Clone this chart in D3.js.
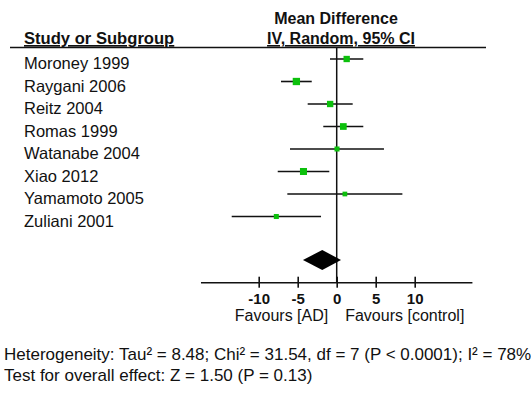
<!DOCTYPE html>
<html>
<head>
<meta charset="utf-8">
<script src="https://cdn.jsdelivr.net/npm/d3@7"></script>
<style>
  body { margin: 0; background: #fff; }
  svg { display: block; font-family: "Liberation Sans", Arial, sans-serif; }
  text { fill: #111; }
</style>
</head>
<body>
<svg id="forest" width="531" height="395"></svg>
<script>
// study data (mean difference, 95% CI, weight %)
const studies = ["Moroney 1999", "Raygani 2006", "Reitz 2004", "Romas 1999",
  "Watanabe 2004", "Xiao 2012", "Yamamoto 2005", "Zuliani 2001"];
const meanDiff = [1.28, -5.17, -0.84, 0.85, 0.04, -4.26, 1.05, -7.74];
const ciLower = [-0.86, -7.14, -3.72, -1.72, -5.99, -7.56, -6.33, -13.46];
const ciUpper = [3.41, -3.20, 2.05, 3.41, 6.06, -0.95, 8.42, -2.01];
const weights = [13.3, 17.7, 13.4, 15.0, 8.4, 16.4, 7.4, 8.4];

// pooled estimate
const pooled = [-1.85, -4.33, 0.55];  // mean, lower, upper

const tickValues = [-10, -5, 0, 5, 10];
const axisLimits = [-17.4, 17.4];

const heterogeneityText = "Heterogeneity: Tau² = 8.48; Chi² = 31.54, df = 7 (P < 0.0001); I² = 78%";
const overallText = "Test for overall effect: Z = 1.50 (P = 0.13)";

const svg = d3.select("#forest");

// scales
const x = d3.scaleLinear().domain([-10, 10]).range([258.7, 414.7]);
const y = d3.scalePoint().domain(studies).range([59, 216.5]);
const size = d3.scaleSqrt().domain([0, 17.7]).range([0, 7.3]);

const zeroX = x(0);
const axisY = 282.7;
const diamondY = 260;

// header
svg.append("text")
  .text("Mean Difference")
  .attr("x", 336).attr("y", 23.5)
  .attr("text-anchor", "middle")
  .attr("font-weight", "bold")
  .attr("font-size", 16);

svg.append("text")
  .text("Study or Subgroup")
  .attr("x", 24).attr("y", 44)
  .attr("font-weight", "bold")
  .attr("font-size", 16.6)
  .style("text-decoration", "underline");

svg.append("text")
  .text("IV, Random, 95% CI")
  .attr("x", 341).attr("y", 44)
  .attr("text-anchor", "middle")
  .attr("font-weight", "bold")
  .attr("font-size", 16)
  .style("text-decoration", "underline");

svg.append("line")
  .attr("x1", 10).attr("x2", 486)
  .attr("y1", 47.5).attr("y2", 47.5)
  .attr("stroke", "#111").attr("stroke-width", 1.6);

// zero line
svg.append("line")
  .attr("x1", zeroX).attr("x2", zeroX)
  .attr("y1", 47.5).attr("y2", axisY)
  .attr("stroke", "#111").attr("stroke-width", 1.5);

const rows = studies.map((s, i) => ({
  name: s, md: meanDiff[i], lo: ciLower[i], hi: ciUpper[i], w: weights[i]
}));

// study labels
svg.selectAll("text.study")
  .data(rows)
  .join("text")
    .attr("class", "study")
    .attr("x", 24)
    .attr("y", d => y(d.name) + 10)
    .attr("font-size", 16.5)
    .text(d => d.name);

// CI whiskers
svg.selectAll("line.ci")
  .data(rows)
  .join("line")
    .attr("class", "ci")
    .attr("x1", d => x(d.lo))
    .attr("x2", d => x(d.hi))
    .attr("y1", d => y(d.name))
    .attr("y2", d => y(d.name))
    .attr("stroke", "#111")
    .attr("stroke-width", 1.6);

// weight squares
svg.selectAll("rect.est")
  .data(rows)
  .join("rect")
    .attr("class", "est")
    .attr("x", d => x(d.md) - size(d.w) / 2)
    .attr("y", d => y(d.name) - size(d.w) / 2)
    .attr("width", d => size(d.w))
    .attr("height", d => size(d.w))
    .attr("fill", "#0cc00c");

// pooled diamond
svg.append("path")
  .attr("d", d3.line()([
    [x(pooled[1]), diamondY],
    [x(pooled[0]), diamondY - 10],
    [x(pooled[2]), diamondY],
    [x(pooled[0]), diamondY + 10]
  ]) + "Z")
  .attr("fill", "#000");

// x axis
svg.append("line")
  .attr("x1", x(axisLimits[0])).attr("x2", x(axisLimits[1]))
  .attr("y1", axisY).attr("y2", axisY)
  .attr("stroke", "#111").attr("stroke-width", 1.6);

const axis = svg.append("g")
  .attr("transform", `translate(0, ${axisY})`)
  .call(d3.axisBottom(x).tickValues(tickValues).tickFormat(d => d < 0 ? "-" + Math.abs(d) : d).tickSizeOuter(0));

axis.select(".domain").remove();
axis.selectAll(".tick line")
  .attr("y1", -6).attr("y2", 5)
  .attr("stroke", "#111").attr("stroke-width", 1.6);
axis.selectAll(".tick text")
  .attr("y", 21).attr("dy", null)
  .attr("font-family", "Liberation Sans, Arial, sans-serif")
  .attr("font-size", 15)
  .attr("font-weight", "bold")
  .attr("fill", "#111");

// favours labels
svg.append("text")
  .text("Favours [AD]")
  .attr("x", zeroX - 8.5).attr("y", 321)
  .attr("text-anchor", "end")
  .attr("font-size", 16);

svg.append("text")
  .text("Favours [control]")
  .attr("x", zeroX + 8.5).attr("y", 321)
  .attr("font-size", 16);

// footer statistics
svg.append("text")
  .text(heterogeneityText)
  .attr("x", 4).attr("y", 360)
  .attr("font-size", 17);

svg.append("text")
  .text(overallText)
  .attr("x", 4).attr("y", 381)
  .attr("font-size", 17);
</script>
</body>
</html>
